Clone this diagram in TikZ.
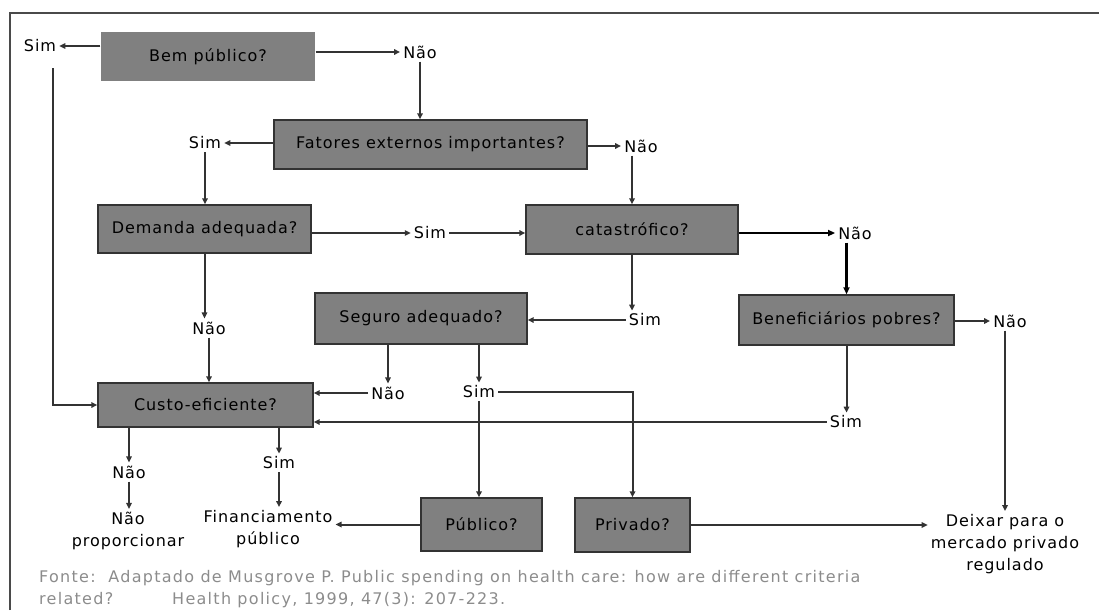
\documentclass[tikz,border=0pt]{standalone}
\usepackage{fontspec}
\setmainfont{DejaVu Sans}[LetterSpace=6]
\newfontfamily\notefont{DejaVu Sans}[LetterSpace=8]
\usetikzlibrary{arrows.meta}

\definecolor{boxgray}{HTML}{808080}
\definecolor{edge}{HTML}{333333}
\definecolor{notegray}{HTML}{8C8C8C}
\definecolor{framegray}{HTML}{4A4A4A}

\begin{document}
\begin{tikzpicture}[x=1pt,y=-1pt,
  every node/.style={font=\fontsize{16}{22}\selectfont},
  box/.style={draw=edge, fill=boxgray, line width=1.4pt, inner sep=0pt},
  lbl/.style={inner sep=3pt, align=center},
  conn/.style={draw=edge, line width=2pt, -{Triangle[length=6pt,width=5.5pt]}},
  strong/.style={draw=black, line width=2.6pt, -{Triangle[length=7pt,width=6pt]}}]
\useasboundingbox (0,0) rectangle (1099,610);

% frame
\draw[framegray, line width=2.5pt] (10,610) -- (10,13) -- (1099,13);

% decision boxes
\node[box, draw=none, minimum width=214pt, minimum height=49pt] (A) at (208,56.5) {Bem público?};
\node[box, minimum width=313pt, minimum height=49pt] (B) at (430.5,144.5) {Fatores externos importantes?};
\node[box, minimum width=213pt, minimum height=48pt] (D) at (204.5,229) {Demanda adequada?};
\node[box, minimum width=212pt, minimum height=49pt] (C) at (632,229.5) {catastrófico?};
\node[box, minimum width=212pt, minimum height=51pt] (F) at (421,318.5) {Seguro adequado?};
\node[box, minimum width=215pt, minimum height=50pt] (E) at (846.5,320) {Beneficiários pobres?};
\node[box, minimum width=215pt, minimum height=44pt] (G) at (205.5,405) {Custo-eficiente?};
\node[box, minimum width=121pt, minimum height=53pt] (I) at (481.5,524.5) {Público?};
\node[box, minimum width=115pt, minimum height=54pt] (H) at (632.5,525) {Privado?};

% answers
\node[lbl] (simA) at (40,46) {Sim};
\node[lbl] (naoA) at (420,52) {Não};
\node[lbl] (simB) at (205,143) {Sim};
\node[lbl] (naoB) at (641,146) {Não};
\node[lbl] (simD) at (430,233) {Sim};
\node[lbl] (naoC) at (855,233) {Não};
\node[lbl] (simC) at (645,320) {Sim};
\node[lbl] (naoE) at (1010,321) {Não};
\node[lbl] (simE) at (846,422) {Sim};
\node[lbl] (naoD) at (209,328) {Não};
\node[lbl] (naoF) at (388,393) {Não};
\node[lbl] (simF) at (479,392) {Sim};
\node[lbl] (naoG) at (129,472) {Não};
\node[lbl] (simG) at (279,463) {Sim};

% outcomes
\node[lbl] (prop) at (128,531) {Não\\proporcionar};
\node[lbl] (fin) at (268,529) {Financiamento\\público};
\node[lbl] (deixar) at (1005,544) {Deixar para o\\mercado privado\\regulado};

% connectors
\coordinate (leftrun) at (53,68);
\draw[conn] (A.west |- simA) -- (simA.east);
\draw[conn] (A.east |- naoA) -- (naoA.west);
\draw[conn] (naoA.south) -- (naoA.south |- B.north);
\draw[conn] (B.west |- simB) -- (simB.east);
\draw[conn] (B.east |- naoB) -- (naoB.west);
\draw[conn] (naoB.south -| C.north) -- (C.north);
\draw[conn] (simB.south) -- (simB.south |- D.north);
\draw[conn] (D.east |- simD) -- (simD.west);
\draw[conn] (simD.east) -- (C.west |- simD);
\draw[strong] (C.east |- naoC) -- (naoC.west);
\draw[strong] (naoC.south -| E.north) -- (E.north);
\draw[conn] (C.south) -- (C.south |- simC.north);
\draw[conn] (simC.west) -- (F.east |- simC);
\draw[conn] (E.east |- naoE) -- (naoE.west);
\draw[conn] (naoE.south -| deixar.north) -- (deixar.north);
\draw[conn] (E.south) -- (E.south |- simE.north);
\draw[conn] (simE.west) -- (G.east |- simE);
\draw[conn] (leftrun) |- (G.west);
\draw[conn] (D.south) -- (D.south |- naoD.north);
\draw[conn] (naoD.south) -- (naoD.south |- G.north);
\draw[conn] (F.south -| naoF) -- (naoF.north);
\draw[conn] (naoF.west) -- (G.east |- naoF);
\draw[conn] (F.south -| simF) -- (simF.north);
\draw[conn] (simF.east) -| (H.north);
\draw[conn] (simF.south) -- (simF.south |- I.north);
\draw[conn] (G.south -| naoG) -- (naoG.north);
\draw[conn] (naoG.south) -- (naoG.south |- prop.north);
\draw[conn] (G.south -| simG) -- (simG.north);
\draw[conn] (simG.south) -- (simG.south |- fin.north);
\draw[conn] (I.west) -- (fin.east |- I.west);
\draw[conn] (H.east) -- (deixar.west |- H.east);

% source note
\node[anchor=west, align=left, inner sep=0pt, text=notegray,
      font=\notefont\fontsize{16}{22}\selectfont] (note) at (39,589)
  {Fonte:~~Adaptado de Musgrove P. Public spending on health care: how are different criteria\\
   \makebox[133pt][l]{related?}Health policy, 1999, 47(3): 207-223.};
\end{tikzpicture}
\end{document}
